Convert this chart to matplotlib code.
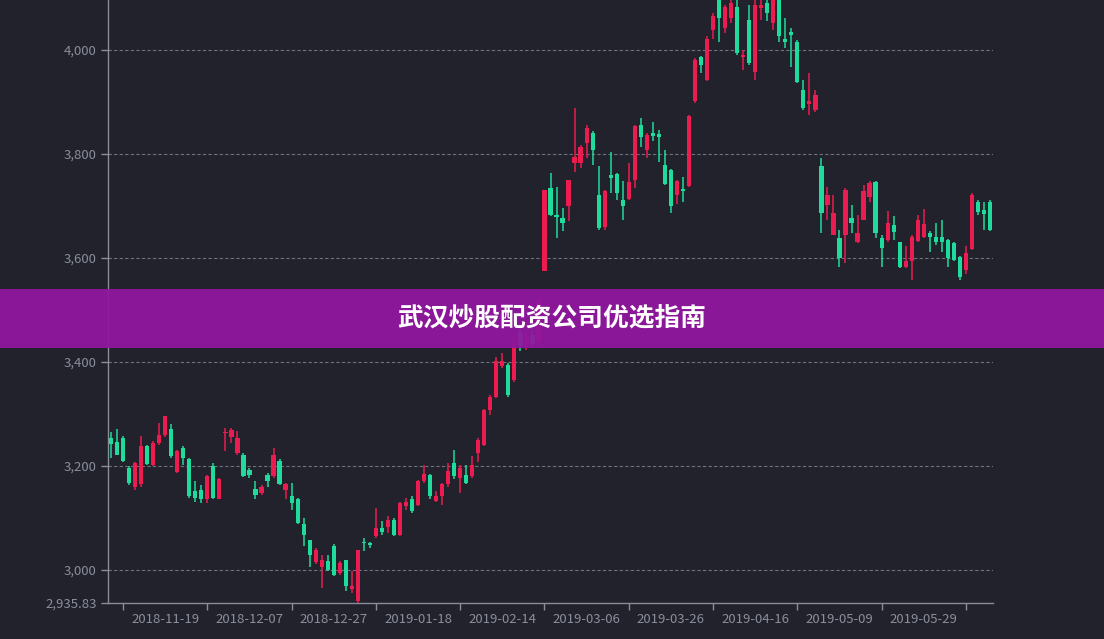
import matplotlib.pyplot as plt
from matplotlib.patches import Rectangle
import numpy as np

# CSI 300 style daily candles, 2018-11-06 .. 2019-06-14 (147 trading days)
opens = [3254, 3246, 3253, 3195, 3160, 3164, 3237, 3202, 3244, 3260,
         3271, 3187, 3234, 3212, 3151, 3154, 3135, 3200, 3136, 3262,
         3256, 3224, 3221, 3192, 3155, 3147, 3183, 3180, 3210, 3154,
         3142, 3136, 3087, 3058, 3014, 3006, 3016, 3046, 2994, 3019,
         2963, 2939, 3054, 3051, 3064, 3080, 3083, 3096, 3067, 3122,
         3136, 3125, 3170, 3183, 3133, 3141, 3164, 3205, 3176, 3183,
         3180, 3224, 3240, 3308, 3333, 3391, 3394, 3365, 3458, 3435,
         3452, 3440, 3574, 3734, 3683, 3676, 3699, 3782, 3782, 3821,
         3841, 3721, 3660, 3760, 3762, 3712, 3713, 3750, 3856, 3808,
         3841, 3838, 3779, 3769, 3721, 3732, 3739, 3901, 3986, 3942,
         4039, 4100, 4042, 4061, 4083, 3987, 4058, 3958, 4080, 4090,
         4051, 4110, 4022, 4035, 4016, 3923, 3896, 3885, 3776, 3702,
         3644, 3638, 3644, 3676, 3631, 3673, 3718, 3745, 3638, 3635,
         3664, 3630, 3583, 3593, 3633, 3640, 3647, 3641, 3641, 3635,
         3628, 3601, 3577, 3617, 3708, 3692, 3708]
highs = [3264, 3271, 3257, 3199, 3208, 3257, 3240, 3247, 3282, 3296,
         3280, 3231, 3237, 3215, 3170, 3163, 3183, 3205, 3176, 3272,
         3272, 3266, 3224, 3196, 3170, 3162, 3186, 3234, 3213, 3167,
         3167, 3138, 3099, 3058, 3042, 3029, 3029, 3049, 3016, 3019,
         2997, 3037, 3061, 3054, 3119, 3093, 3103, 3099, 3131, 3138,
         3141, 3173, 3202, 3185, 3151, 3167, 3205, 3231, 3202, 3202,
         3218, 3253, 3309, 3337, 3410, 3417, 3398, 3446, 3470, 3460,
         3465, 3522, 3731, 3763, 3737, 3696, 3750, 3888, 3817, 3856,
         3844, 3776, 3731, 3803, 3764, 3747, 3782, 3856, 3869, 3840,
         3862, 3846, 3808, 3771, 3750, 3756, 3875, 3984, 3988, 4026,
         4071, 4115, 4087, 4105, 4100, 4000, 4087, 4105, 4105, 4100,
         4127, 4115, 4061, 4042, 4019, 3942, 3955, 3923, 3792, 3737,
         3721, 3654, 3734, 3702, 3683, 3740, 3747, 3747, 3644, 3691,
         3680, 3631, 3622, 3644, 3683, 3694, 3651, 3668, 3673, 3636,
         3631, 3604, 3622, 3724, 3712, 3708, 3712]
lows = [3215, 3220, 3207, 3163, 3154, 3160, 3202, 3199, 3240, 3256,
        3215, 3186, 3202, 3138, 3131, 3128, 3128, 3135, 3135, 3228,
        3244, 3221, 3179, 3176, 3135, 3144, 3160, 3176, 3163, 3135,
        3115, 3087, 3045, 3006, 3010, 2965, 2997, 2987, 2990, 2958,
        2955, 2936, 3035, 3042, 3061, 3067, 3071, 3064, 3064, 3115,
        3109, 3122, 3167, 3135, 3131, 3125, 3160, 3174, 3148, 3164,
        3176, 3208, 3237, 3298, 3330, 3388, 3333, 3362, 3420, 3423,
        3428, 3430, 3574, 3680, 3638, 3651, 3670, 3766, 3772, 3792,
        3779, 3654, 3653, 3724, 3712, 3673, 3712, 3734, 3814, 3792,
        3824, 3785, 3740, 3686, 3704, 3708, 3737, 3897, 3955, 3941,
        4021, 4016, 4032, 4051, 3990, 3962, 3971, 3942, 4058, 4055,
        4039, 4016, 4003, 3968, 3936, 3885, 3875, 3881, 3647, 3673,
        3644, 3583, 3590, 3647, 3628, 3672, 3708, 3638, 3583, 3631,
        3635, 3580, 3580, 3558, 3631, 3638, 3612, 3625, 3612, 3583,
        3593, 3558, 3569, 3615, 3683, 3654, 3651]
closes = [3242, 3221, 3210, 3167, 3205, 3238, 3204, 3244, 3260, 3296,
          3218, 3228, 3215, 3141, 3138, 3136, 3180, 3138, 3174, 3265,
          3269, 3253, 3181, 3183, 3144, 3160, 3170, 3221, 3165, 3165,
          3128, 3090, 3067, 3029, 3038, 3019, 3000, 2990, 3013, 2969,
          2968, 3037, 3051, 3047, 3080, 3072, 3096, 3067, 3128, 3131,
          3112, 3170, 3185, 3141, 3142, 3164, 3189, 3180, 3196, 3167,
          3202, 3249, 3308, 3333, 3401, 3401, 3337, 3430, 3430, 3445,
          3435, 3520, 3731, 3683, 3678, 3668, 3750, 3795, 3814, 3849,
          3808, 3657, 3728, 3753, 3724, 3699, 3745, 3853, 3833, 3837,
          3835, 3833, 3742, 3699, 3747, 3728, 3873, 3981, 3971, 4022,
          4065, 4061, 4083, 4090, 3994, 3990, 3974, 4087, 4087, 4071,
          4110, 4026, 4016, 4029, 3939, 3888, 3901, 3914, 3686, 3721,
          3686, 3599, 3731, 3667, 3647, 3728, 3744, 3647, 3619, 3667,
          3649, 3583, 3593, 3640, 3673, 3665, 3641, 3630, 3631, 3599,
          3596, 3564, 3610, 3721, 3689, 3685, 3654]

date_labels = ['2018-11-19', '2018-12-07', '2018-12-27', '2019-01-18', '2019-02-14',
               '2019-03-06', '2019-03-26', '2019-04-16', '2019-05-09', '2019-05-29']
y_ticks = [2935.83, 3000, 3200, 3400, 3600, 3800, 4000]
y_tick_labels = ['2,935.83', '3,000', '3,200', '3,400', '3,600', '3,800', '4,000']
banner_text = '武汉炒股配资公司优选指南'

bg = '#21222c'
up_color = '#ec1c50'
down_color = '#1fdc9c'
axis_color = '#8a8d98'
text_color = '#8b8f9b'

plt.rcParams['font.family'] = ['Noto Sans CJK SC', 'DejaVu Sans']

fig = plt.figure(figsize=(11.04, 6.39), dpi=100, facecolor=bg)
ax = fig.add_axes([108 / 1104, 36 / 639, 885 / 1104, 603 / 639])
ax.set_facecolor(bg)

o = np.array(opens, dtype=float)
h = np.array(highs, dtype=float)
l = np.array(lows, dtype=float)
c = np.array(closes, dtype=float)
x = np.arange(len(o))
colors = [up_color if cc >= oo else down_color for oo, cc in zip(o, c)]

ax.vlines(x, l, h, colors=colors, linewidth=1.1, zorder=3)
body_low = np.minimum(o, c)
body_h = np.maximum(np.abs(c - o), 2.5)
ax.bar(x, body_h, bottom=body_low, width=0.7, color=colors, linewidth=0, zorder=4)

ax.set_xlim(-0.5, len(o) - 0.5)
ax.set_ylim(2935.83, 4096.15)

for v in y_ticks[1:]:
    ax.axhline(v, color='#6f717c', linewidth=0.8, linestyle=(0, (3, 2)), zorder=1)

ax.set_yticks(y_ticks)
ax.set_yticklabels(y_tick_labels)
ax.set_xticks([2 + 14 * j for j in range(11)])
ax.set_xticklabels([])
ax.set_xticks([9 + 14 * j for j in range(len(date_labels))], minor=True)
ax.set_xticklabels(date_labels, minor=True)
ax.tick_params(axis='x', which='major', length=5, color=axis_color, width=1)
ax.tick_params(axis='x', which='minor', length=0, pad=7, labelsize=9.5, labelcolor=text_color)
ax.tick_params(axis='y', length=5, color=axis_color, width=1, labelsize=9.5,
               labelcolor=text_color, pad=3)

for side in ['top', 'right']:
    ax.spines[side].set_visible(False)
for side in ['left', 'bottom']:
    ax.spines[side].set_color(axis_color)
    ax.spines[side].set_linewidth(1)

# purple banner across the middle
fig.add_artist(Rectangle((0, 291 / 639), 1, 59 / 639, transform=fig.transFigure,
                         facecolor='#91179e', alpha=0.95, edgecolor='none', zorder=10))
fig.text(552 / 1104, 320 / 639, banner_text, color='white', fontsize=18.5,
         fontweight='bold', ha='center', va='center', zorder=11)

fig.savefig('out.png', dpi=100, facecolor=bg)
